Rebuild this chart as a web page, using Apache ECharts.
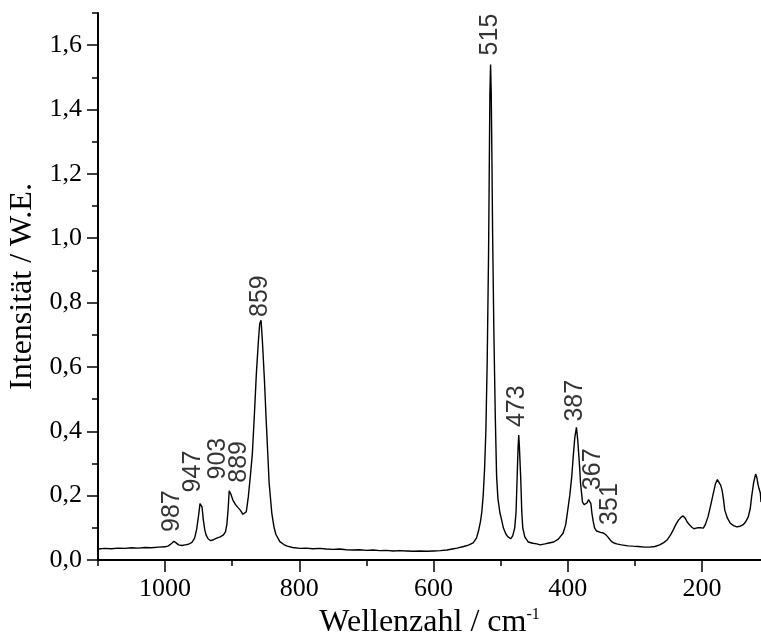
<!DOCTYPE html>
<html>
<head>
<meta charset="utf-8">
<script src="https://cdn.jsdelivr.net/npm/echarts@6/dist/echarts.min.js"></script>
<style>
  html, body { margin: 0; padding: 0; background: #fff; }
  #chart { width: 761px; height: 637px; }
</style>
</head>
<body>
<div id="chart"></div>
<script>
// Raman spectrum (wavenumber in cm-1, intensity in W.E.)
const wavenumber = [
  1100, 1090, 1080, 1070, 1060, 1050, 1040, 1030, 1020, 1010, 1000, 995, 990, 987, 984, 980, 975, 970, 965, 960,
  956, 953, 950, 948, 947, 945, 943, 941, 939, 936, 932, 928, 923, 918, 913, 910, 908, 906, 904.5, 902,
  899, 895, 891, 888, 884, 882, 879, 876, 873, 870, 867, 864, 861, 859, 857, 855, 852, 849.5, 847, 845,
  841, 838, 835, 829, 823, 818, 810, 799, 790, 780, 769, 760, 750, 740, 730, 720, 710, 700, 690, 680,
  670, 660, 650, 640, 630, 620, 610, 600, 590, 580, 570, 565, 555, 548, 541, 536, 533, 530, 528, 526,
  524, 522, 520, 518, 517, 516, 515, 514, 513, 512, 510, 508, 506, 504, 501, 498, 496, 492, 489, 485,
  482, 479, 477, 475.5, 474, 473, 472, 470, 468.5, 467, 464, 459, 452, 446, 441, 434, 428, 421, 414, 407,
  403, 400, 397, 394, 391.5, 389.5, 387, 385, 384, 382, 381, 379, 378, 375.5, 373.5, 371, 369, 367, 365.5, 364,
  362, 360, 357, 355, 351, 347, 343, 340, 337, 334, 330, 327, 320, 310, 303, 295, 285, 278, 270, 263,
  257, 252, 247, 243, 239, 235, 231, 228, 225, 222, 218, 215, 212, 210, 207, 204.5, 201, 198, 195, 191,
  187, 183, 180, 177, 175, 172, 170, 168, 166, 162, 158, 153, 148, 143, 139, 135, 131, 128, 126, 123,
  120, 118, 117, 115, 113, 112
];
const intensity = [
  0.034, 0.036, 0.035, 0.037, 0.036, 0.038, 0.037, 0.039, 0.038, 0.040, 0.041, 0.044, 0.052, 0.058, 0.054, 0.047, 0.045, 0.047, 0.049, 0.055,
  0.068, 0.095, 0.140, 0.175, 0.181, 0.165, 0.124, 0.095, 0.078, 0.066, 0.060, 0.063, 0.068, 0.072, 0.078, 0.088, 0.110, 0.160, 0.215, 0.205,
  0.186, 0.172, 0.162, 0.155, 0.142, 0.137, 0.150, 0.196, 0.260, 0.330, 0.450, 0.580, 0.680, 0.735, 0.745, 0.680, 0.560, 0.440, 0.330, 0.240,
  0.146, 0.105, 0.080, 0.057, 0.048, 0.043, 0.039, 0.036, 0.037, 0.035, 0.036, 0.034, 0.033, 0.034, 0.032, 0.031, 0.032, 0.030, 0.031, 0.029,
  0.030, 0.028, 0.029, 0.028, 0.027, 0.028, 0.027, 0.028, 0.029, 0.031, 0.035, 0.037, 0.042, 0.046, 0.053, 0.068, 0.090, 0.120, 0.150, 0.200,
  0.280, 0.400, 0.620, 0.950, 1.200, 1.450, 1.540, 1.450, 1.250, 1.020, 0.700, 0.450, 0.260, 0.190, 0.146, 0.120, 0.100, 0.080, 0.072, 0.066,
  0.075, 0.100, 0.150, 0.250, 0.350, 0.388, 0.350, 0.250, 0.150, 0.100, 0.072, 0.056, 0.052, 0.050, 0.047, 0.050, 0.053, 0.056, 0.065, 0.083,
  0.110, 0.155, 0.200, 0.260, 0.330, 0.380, 0.412, 0.370, 0.340, 0.280, 0.240, 0.200, 0.180, 0.172, 0.171, 0.178, 0.188, 0.193, 0.175, 0.146,
  0.120, 0.100, 0.090, 0.087, 0.086, 0.084, 0.078, 0.071, 0.063, 0.056, 0.052, 0.050, 0.047, 0.044, 0.043, 0.042, 0.040, 0.040, 0.042, 0.047,
  0.054, 0.062, 0.077, 0.093, 0.110, 0.124, 0.133, 0.137, 0.130, 0.118, 0.108, 0.102, 0.097, 0.096, 0.100, 0.102, 0.100, 0.099, 0.110, 0.134,
  0.170, 0.208, 0.236, 0.250, 0.248, 0.232, 0.217, 0.190, 0.155, 0.130, 0.115, 0.107, 0.103, 0.105, 0.109, 0.118, 0.134, 0.160, 0.196, 0.240,
  0.267, 0.255, 0.240, 0.222, 0.208, 0.180
];

// peak annotations: text and where the rotated label starts
const peakNames = ['987', '947', '903', '889', '859', '515', '473', '387', '367', '351'];
const peakLabelX = [989.6, 958, 921, 890, 858, 516, 475.5, 389, 362, 337];
const peakLabelY = [0.087, 0.21, 0.25, 0.24, 0.755, 1.568, 0.413, 0.43, 0.217, 0.109];

// axis ticks
const xMajorTicks = [1000, 800, 600, 400, 200];
const xMinorTicks = [1100, 900, 700, 500, 300];
const yMajorTicks = [0, 0.2, 0.4, 0.6, 0.8, 1.0, 1.2, 1.4, 1.6];
const yMinorTicks = [0.1, 0.3, 0.5, 0.7, 0.9, 1.1, 1.3, 1.5, 1.7];

const serif = 'Liberation Serif';
const black = '#000';

const chart = echarts.init(document.getElementById('chart'));

chart.setOption({
  animation: false,
  backgroundColor: '#fff',
  grid: {
    left: 98,
    right: 0,
    top: 13,
    bottom: 77,
    containLabel: false,
    outerBoundsMode: 'none'
  },
  xAxis: [
    {
      type: 'value',
      inverse: true,
      min: 112,
      max: 1100,
      position: 'bottom',
      axisLine: { show: true, onZero: false, lineStyle: { color: black, width: 2 } },
      axisTick: { show: true, customValues: xMajorTicks, length: 12, lineStyle: { color: black, width: 1.5 } },
      axisLabel: {
        customValues: xMajorTicks,
        formatter: v => String(v),
        color: black,
        fontFamily: serif,
        fontSize: 26,
        margin: 16
      },
      splitLine: { show: false },
      name: 'Wellenzahl / cm{sup|-1}',
      nameLocation: 'middle',
      nameGap: 44,
      nameTextStyle: {
        fontFamily: serif,
        fontSize: 32,
        color: black,
        rich: { sup: { fontFamily: serif, fontSize: 16, color: black, verticalAlign: 'top' } }
      }
    },
    {
      type: 'value',
      inverse: true,
      min: 112,
      max: 1100,
      position: 'bottom',
      axisLine: { show: false, onZero: false },
      axisTick: { show: true, customValues: xMinorTicks, length: 6, lineStyle: { color: black, width: 1.5 } },
      axisLabel: { show: false },
      splitLine: { show: false }
    }
  ],
  yAxis: [
    {
      type: 'value',
      min: 0,
      max: 1.7,
      position: 'left',
      axisLine: { show: true, onZero: false, lineStyle: { color: black, width: 2 } },
      axisTick: { show: true, customValues: yMajorTicks, length: 11, lineStyle: { color: black, width: 1.5 } },
      axisLabel: {
        customValues: yMajorTicks,
        formatter: v => v.toFixed(1).replace('.', ','),
        color: black,
        fontFamily: serif,
        fontSize: 26,
        margin: 16
      },
      splitLine: { show: false },
      name: 'Intensität / W.E.',
      nameLocation: 'middle',
      nameRotate: 90,
      nameGap: 58,
      nameTextStyle: { fontFamily: serif, fontSize: 32, color: black }
    },
    {
      type: 'value',
      min: 0,
      max: 1.7,
      position: 'left',
      axisLine: { show: false, onZero: false },
      axisTick: { show: true, customValues: yMinorTicks, length: 6, lineStyle: { color: black, width: 1.5 } },
      axisLabel: { show: false },
      splitLine: { show: false }
    }
  ],
  series: [
    {
      type: 'line',
      data: wavenumber.map((w, i) => [w, intensity[i]]),
      showSymbol: false,
      symbol: 'none',
      lineStyle: { color: black, width: 1.4 },
      silent: true
    },
    {
      type: 'scatter',
      data: peakNames.map((n, i) => ({ name: n, value: [peakLabelX[i], peakLabelY[i]] })),
      symbol: 'circle',
      symbolSize: 0.1,
      itemStyle: { color: 'rgba(0,0,0,0)' },
      silent: true,
      label: {
        show: true,
        formatter: '{b}',
        position: 'top',
        distance: 0,
        rotate: 90,
        align: 'left',
        verticalAlign: 'middle',
        fontFamily: 'Liberation Sans',
        fontSize: 25,
        color: black
      }
    }
  ]
});
</script>
</body>
</html>
